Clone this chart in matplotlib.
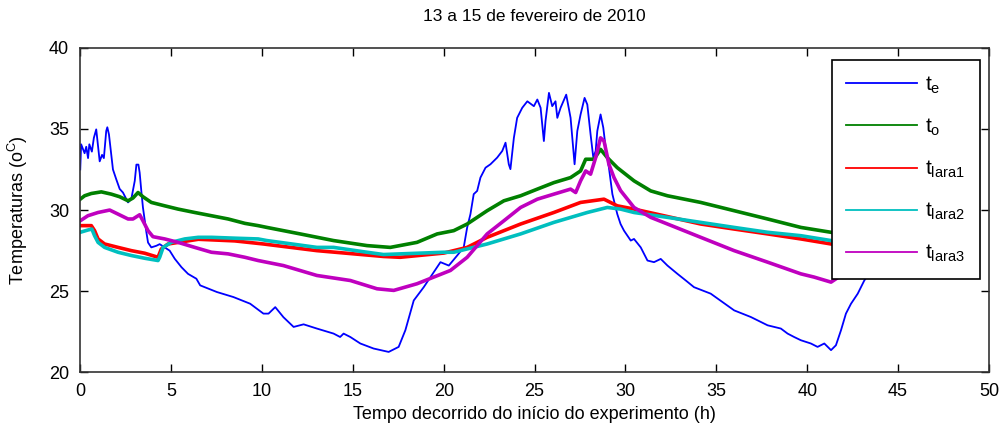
import matplotlib
matplotlib.use("Agg")
import matplotlib.pyplot as plt

plt.rcParams["font.family"] = ["Liberation Sans", "DejaVu Sans"]
plt.rcParams["mathtext.fontset"] = "custom"
plt.rcParams["mathtext.rm"] = "Liberation Sans"
plt.rcParams["mathtext.it"] = "Liberation Sans"

# hora, temperatura
te_h = [0.0, 0.05, 0.24, 0.33, 0.43, 0.5, 0.64, 0.75, 0.88, 0.97, 1.07, 1.2, 1.3, 1.43, 1.49,
        1.58, 1.71, 1.8, 1.98, 2.17, 2.35, 2.63, 2.81, 3.0, 3.09, 3.2, 3.27, 3.36, 3.45, 3.55,
        3.64, 3.73, 3.91, 4.19, 4.37, 4.65, 4.92, 5.2, 5.57, 5.93, 6.39, 6.6, 7.52, 8.43, 9.35,
        10.08, 10.36, 10.73, 11.18, 11.74, 12.29, 13.02, 13.94, 14.3, 14.49, 14.86, 15.41,
        16.14, 16.97, 17.52, 17.89, 18.35, 18.9, 19.45, 19.82, 20.28, 20.74, 21.1, 21.29,
        21.38, 21.47, 21.65, 21.84, 22.02, 22.3, 22.57, 22.94, 23.22, 23.4, 23.58, 23.67,
        23.86, 24.04, 24.32, 24.6, 24.96, 25.15, 25.33, 25.51, 25.6, 25.79, 25.97, 26.15,
        26.25, 26.43, 26.74, 26.98, 27.2, 27.35, 27.53, 27.75, 27.9, 28.08, 28.23, 28.36,
        28.45, 28.63, 28.78, 28.91, 29.09, 29.28, 29.55, 29.73, 29.92, 30.29, 30.47, 30.84,
        31.21, 31.57, 31.94, 32.31, 32.86, 33.32, 33.77, 34.69, 35.98, 36.9, 37.82, 38.55,
        38.92, 39.28, 39.65, 40.2, 40.57, 40.94, 41.31, 41.58, 41.86, 42.13, 42.41, 42.78,
        43.14, 43.6, 44.0]
te_T = [32.5, 34.05, 33.5, 33.9, 33.2, 34.05, 33.6, 34.45, 34.97, 34.05, 33.0, 33.4, 33.2,
        34.87, 35.1, 34.66, 33.4, 32.5, 31.9, 31.3, 31.08, 30.47, 30.68, 31.8, 32.8, 32.8,
        32.3, 31.18, 30.16, 29.34, 28.63, 28.0, 27.7, 27.8, 27.9, 27.7, 27.5, 27.0, 26.48,
        26.07, 25.77, 25.36, 24.95, 24.64, 24.23, 23.62, 23.62, 24.02, 23.4, 22.8, 22.96,
        22.7, 22.39, 22.18, 22.39, 22.18, 21.78, 21.47, 21.26, 21.57, 22.6, 24.43, 25.25,
        26.17, 26.79, 26.58, 27.2, 27.7, 28.93, 29.34, 29.75, 30.98, 31.18, 32.0, 32.61,
        32.82, 33.23, 33.64, 34.15, 32.82, 32.52, 34.45, 35.68, 36.3, 36.7, 36.4, 36.81,
        36.3, 34.25, 35.48, 37.22, 36.4, 36.7, 35.68, 36.3, 37.11, 35.68, 32.82, 34.87,
        35.89, 36.91, 36.5, 34.66, 33.23, 33.64, 34.87, 35.89, 35.07, 33.84, 32.61, 30.98,
        29.75, 29.14, 28.73, 28.12, 28.22, 27.7, 26.89, 26.79, 26.99, 26.58, 26.07, 25.66,
        25.25, 24.85, 23.82, 23.41, 22.9, 22.7, 22.39, 22.18, 21.98, 21.78, 21.57, 21.78,
        21.37, 21.67, 22.6, 23.62, 24.23, 24.85, 25.66, 26.4, 27.0]

to_h = [0.0, 0.24, 0.61, 1.16, 1.71, 2.17, 2.63, 2.9, 3.18, 3.45, 3.91, 4.65, 5.38, 6.3,
        7.22, 8.14, 9.06, 9.79, 10.27, 12.1, 13.94, 15.78, 17.06, 18.53, 19.64, 20.55,
        21.29, 22.39, 23.31, 24.23, 25.15, 26.06, 26.98, 27.53, 27.81, 28.26, 28.63, 29.0,
        29.55, 30.47, 31.39, 32.31, 34.14, 35.98, 37.82, 39.65, 41.31, 42.5, 44.0]
to_T = [30.67, 30.88, 31.02, 31.12, 30.98, 30.82, 30.57, 30.74, 31.08, 30.82, 30.47, 30.26,
        30.06, 29.85, 29.65, 29.45, 29.18, 29.04, 28.93, 28.53, 28.12, 27.81, 27.7, 28.01,
        28.53, 28.73, 29.14, 29.96, 30.57, 30.88, 31.29, 31.69, 32.0, 32.41, 33.13, 33.13,
        33.74, 33.23, 32.61, 31.8, 31.18, 30.88, 30.47, 29.96, 29.45, 28.93, 28.63, 28.4,
        28.1]

tl1_h = [0.0, 0.61, 0.79, 0.98, 1.34, 2.08, 2.81, 3.55, 4.28, 4.46, 4.83, 6.5, 8.5, 10.08,
         13.02, 16.69, 17.6, 20.0, 21.29, 22.39, 24.23, 26.06, 27.53, 28.82, 29.55, 30.47,
         32.31, 34.14, 35.98, 37.82, 39.65, 41.31, 42.5, 44.0]
tl1_T = [29.04, 29.04, 28.73, 28.22, 27.91, 27.7, 27.5, 27.34, 27.09, 27.6, 27.91, 28.2,
         28.1, 27.91, 27.5, 27.14, 27.09, 27.35, 27.7, 28.32, 29.14, 29.85, 30.47, 30.67,
         30.26, 30.06, 29.6, 29.14, 28.83, 28.53, 28.22, 27.91, 27.7, 27.5]

tl2_h = [0.0, 0.42, 0.64, 0.79, 0.98, 1.34, 2.08, 2.81, 3.55, 4.28, 4.37, 4.56, 5.01, 5.75,
         6.49, 7.22, 8.69, 9.79, 10.27, 13.02, 13.94, 15.78, 16.69, 17.6, 20.0, 20.55, 22.39,
         24.23, 26.06, 27.9, 29.0, 29.73, 30.47, 32.31, 34.14, 35.98, 37.82, 39.65, 41.31,
         42.5, 44.0]
tl2_T = [28.63, 28.77, 28.83, 28.42, 28.01, 27.7, 27.4, 27.2, 27.03, 26.89, 27.09, 27.7,
         28.01, 28.22, 28.32, 28.32, 28.26, 28.22, 28.12, 27.7, 27.7, 27.4, 27.26, 27.3,
         27.4, 27.4, 27.91, 28.53, 29.24, 29.85, 30.16, 30.06, 29.85, 29.55, 29.24, 28.93,
         28.63, 28.42, 28.12, 27.95, 27.75]

tl3_h = [0.0, 0.42, 0.98, 1.62, 2.08, 2.63, 2.9, 3.27, 3.45, 3.73, 4.0, 4.65, 5.38, 6.3,
         7.22, 8.14, 9.06, 9.79, 11.18, 13.02, 14.86, 16.33, 17.25, 18.53, 19.45, 20.37,
         21.29, 22.39, 23.31, 24.23, 25.15, 26.06, 26.98, 27.26, 27.53, 27.81, 28.08, 28.36,
         28.63, 28.82, 29.09, 29.37, 29.73, 30.47, 31.39, 32.31, 34.14, 35.98, 37.82, 39.65,
         40.38, 41.31, 41.86, 43.0, 44.0]
tl3_T = [29.34, 29.65, 29.85, 30.0, 29.75, 29.45, 29.45, 29.71, 29.34, 28.73, 28.36, 28.22,
         28.01, 27.7, 27.4, 27.3, 27.09, 26.89, 26.58, 25.97, 25.66, 25.15, 25.05, 25.46,
         25.87, 26.28, 27.09, 28.53, 29.34, 30.16, 30.67, 30.98, 31.29, 31.08, 31.8, 32.41,
         32.21, 33.23, 34.45, 34.25, 32.82, 32.0, 31.2, 30.16, 29.55, 29.14, 28.32, 27.5,
         26.79, 26.07, 25.87, 25.56, 25.97, 26.2, 26.4]

fig = plt.figure(figsize=(10.03, 4.30), dpi=100)
ax = fig.add_axes([0.08, 0.134, 0.906, 0.755])

ax.plot(te_h, te_T, color=(0, 0, 1), linewidth=1.3, label=r"t$_\mathregular{e}$")
ax.plot(to_h, to_T, color=(0, 0.5, 0), linewidth=2.6, label=r"t$_\mathregular{o}$")
ax.plot(tl1_h, tl1_T, color=(1, 0, 0), linewidth=2.6, label=r"t$_\mathregular{lara1}$")
ax.plot(tl2_h, tl2_T, color=(0, 0.75, 0.75), linewidth=2.6, label=r"t$_\mathregular{lara2}$")
ax.plot(tl3_h, tl3_T, color=(0.75, 0, 0.75), linewidth=2.6, label=r"t$_\mathregular{lara3}$")

ax.set_xlim(0, 50)
ax.set_ylim(20, 40)
ax.set_xticks(range(0, 51, 5))
ax.set_yticks(range(20, 41, 5))
ax.tick_params(direction="in", top=True, right=True, length=6, width=1,
               labelsize=13, colors="black", pad=8)
for s in ax.spines.values():
    s.set_color("#333333")
    s.set_linewidth(1.2)

ax.set_title("13 a 15 de fevereiro de 2010", fontsize=12.5, pad=19)
ax.set_xlabel("Tempo decorrido do início do experimento (h)", fontsize=13, labelpad=4)
ax.set_ylabel(r"Temperaturas (o$^\mathregular{C}$)", fontsize=13, labelpad=14)

leg = ax.legend(loc="upper right", bbox_to_anchor=(0.99, 0.962), borderaxespad=0,
                fontsize=15, handlelength=3.4, labelspacing=1.0, handletextpad=0.4,
                borderpad=0.7, fancybox=False, framealpha=1, edgecolor="black")
leg.get_frame().set_linewidth(1.2)
for line in leg.get_lines():
    line.set_linewidth(1.3)

fig.savefig("out.png", dpi=100)
